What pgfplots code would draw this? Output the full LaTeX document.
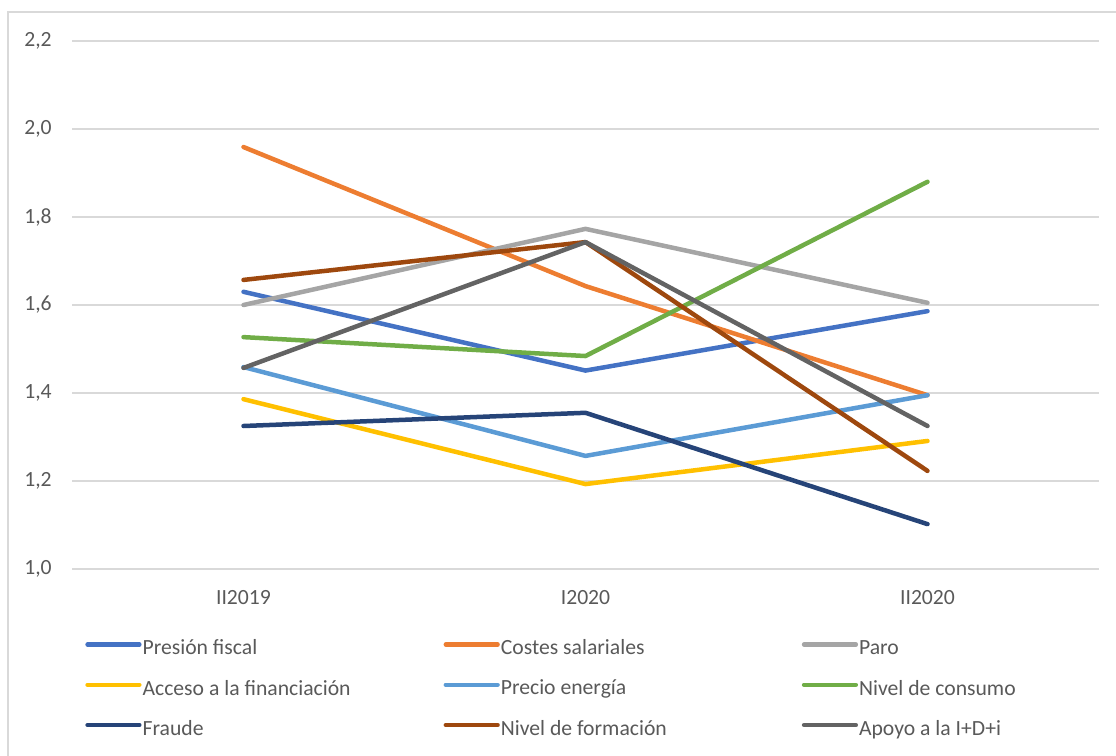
\documentclass[border=0pt]{standalone}
\usepackage{fontspec}
\setmainfont{Carlito}
\usepackage{pgfplots}
\pgfplotsset{compat=1.18}
\definecolor{cA}{HTML}{4472C4}
\definecolor{cB}{HTML}{ED7D31}
\definecolor{cC}{HTML}{A5A5A5}
\definecolor{cD}{HTML}{FFC000}
\definecolor{cE}{HTML}{5B9BD5}
\definecolor{cF}{HTML}{70AD47}
\definecolor{cG}{HTML}{264478}
\definecolor{cH}{HTML}{9E480E}
\definecolor{cI}{HTML}{636363}
\definecolor{gridc}{HTML}{D9D9D9}
\definecolor{txt}{HTML}{595959}
\newcommand{\lgd}[1]{\makebox[180.6pt][l]{\rule[-3.6pt]{0pt}{12pt}#1}}
\begin{document}
\begin{tikzpicture}
\fontsize{13}{13}\selectfont
\begin{axis}[
  scale only axis,
  width=615.6pt, height=316.8pt,
  xmin=-0.5, xmax=2.5, ymin=1.0, ymax=2.2,
  xtick={0,1,2}, xticklabels={II2019,I2020,II2020},
  ytick={1.0,1.2,1.4,1.6,1.8,2.0,2.2},
  /pgf/number format/use comma,
  /pgf/number format/fixed,
  /pgf/number format/fixed zerofill,
  /pgf/number format/precision=1,
  /pgf/number format/assume math mode=true,
  axis line style={draw=none},
  major tick length=0pt,
  ymajorgrids, major grid style={gridc, line width=0.9pt},
  tick label style={font=\fontsize{13}{13}\selectfont, text=txt, inner sep=0pt},
  x tick label style={anchor=center, yshift=-17.4pt},
  y tick label style={anchor=east, xshift=-12.3pt},
  every axis plot/.append style={line width=2.7pt, line cap=round, line join=round},
  legend columns=3,
  legend style={at={(0,0)}, anchor=north west, xshift=4.5pt, yshift=-40.2pt,
    draw=none, fill=none, font=\fontsize{13}{13}\selectfont, text=txt,
    nodes={inner sep=0pt}, column sep=0.6pt, row sep=13.2pt,
    /tikz/every even column/.append style={column sep=0pt}},
  legend cell align=left,
  legend image code/.code={\draw[#1] (1.35pt,2.6pt) -- (32.4pt,2.6pt);},
]
\addplot[cA] coordinates {(0,1.630) (1,1.451) (2,1.586)}; \addlegendentry{\lgd{Presión fiscal}}
\addplot[cB] coordinates {(0,1.959) (1,1.643) (2,1.395)}; \addlegendentry{\lgd{Costes salariales}}
\addplot[cC] coordinates {(0,1.600) (1,1.773) (2,1.605)}; \addlegendentry{\lgd{Paro}}
\addplot[cD] coordinates {(0,1.386) (1,1.193) (2,1.291)}; \addlegendentry{\lgd{Acceso a la financiación}}
\addplot[cE] coordinates {(0,1.459) (1,1.257) (2,1.395)}; \addlegendentry{\lgd{Precio energía}}
\addplot[cF] coordinates {(0,1.527) (1,1.484) (2,1.880)}; \addlegendentry{\lgd{Nivel de consumo}}
\addplot[cG] coordinates {(0,1.325) (1,1.355) (2,1.102)}; \addlegendentry{\lgd{Fraude}}
\addplot[cH] coordinates {(0,1.657) (1,1.743) (2,1.223)}; \addlegendentry{\lgd{Nivel de formación}}
\addplot[cI] coordinates {(0,1.457) (1,1.743) (2,1.325)}; \addlegendentry{\lgd{Apoyo a la I+D+i}}
\end{axis}
\draw[gridc, line width=0.9pt] (-38.7pt,-120pt) -- (-38.7pt,334.2pt) -- (700pt,334.2pt);
\pgfresetboundingbox
\path[use as bounding box] (-43.5pt,-111.6pt) rectangle (626.1pt,341.4pt);
\end{tikzpicture}
\end{document}
